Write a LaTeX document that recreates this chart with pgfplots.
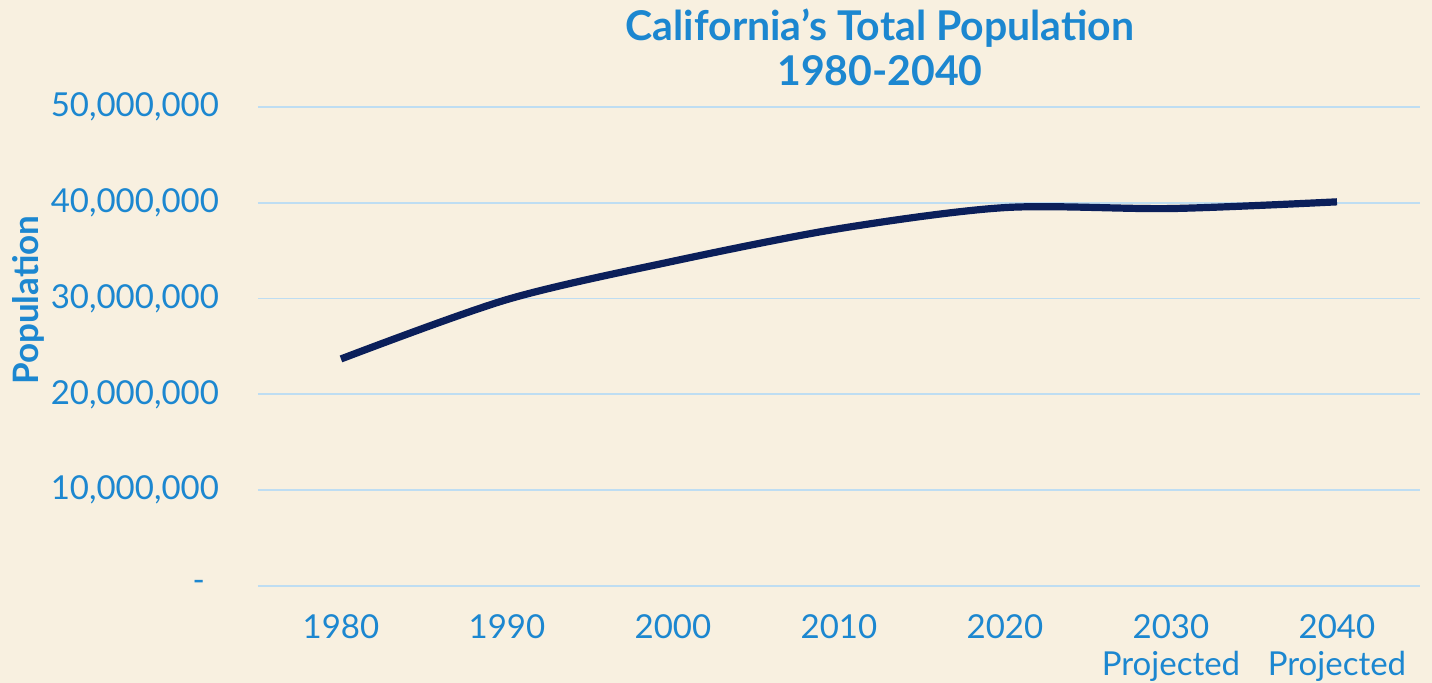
\documentclass[border=0pt]{standalone}
\usepackage{pgfplots}
\pgfplotsset{compat=1.18}
\usepackage{fontspec}
\setmainfont{Lato}
\newfontfamily\titlefont{Lato}
\definecolor{bg}{HTML}{F8F0E0}
\definecolor{txtblue}{HTML}{1C87D0}
\definecolor{gridblue}{HTML}{BEDDF2}
\definecolor{navy}{HTML}{0B1F5A}

\begin{document}
\begin{tikzpicture}
  \path[use as bounding box, fill=bg] (-129pt,-48.5pt) rectangle (587pt,293pt);
  \begin{axis}[
    at={(0,0)}, anchor=south west,
    scale only axis,
    width=581pt, height=239.5pt,
    xmin=-0.5, xmax=6.5,
    ymin=0, ymax=50000000,
    scaled y ticks=false,
    xtick={0,1,2,3,4,5,6},
    xticklabels={1980,1990,2000,2010,2020,{2030\\Projected},{2040\\Projected}},
    ytick={0,10000000,20000000,30000000,40000000,50000000},
    yticklabels={{-\kern7pt},{10,000,000},{20,000,000},{30,000,000},{40,000,000},{50,000,000}},
    ymajorgrids,
    grid style={gridblue, line width=0.9pt},
    axis line style={draw=none},
    major tick length=0pt,
    tick label style={font=\fontsize{16.5}{18.5}\selectfont, text=txtblue},
    xticklabel style={align=center, anchor=north, yshift=-11pt},
    yticklabel style={anchor=east, xshift=-16pt},
    ylabel={\bfseries Population},
    ylabel style={at={(axis description cs:-0.198,0.597)}, anchor=center,
      font=\fontsize{17.5}{19}\selectfont, text=txtblue},
  ]
    \addplot[navy, line width=3.6pt, smooth, tension=0.5] coordinates {
      (0,23700000) (1,29900000) (2,33900000) (3,37300000)
      (4,39500000) (5,39400000) (6,40100000)
    };
  \end{axis}
  \node[align=center, text=txtblue, font=\titlefont\bfseries\fontsize{20.5}{22.5}\selectfont]
    at (311pt,269.5pt) {California’s Total Population\\1980-2040};
\end{tikzpicture}
\end{document}
